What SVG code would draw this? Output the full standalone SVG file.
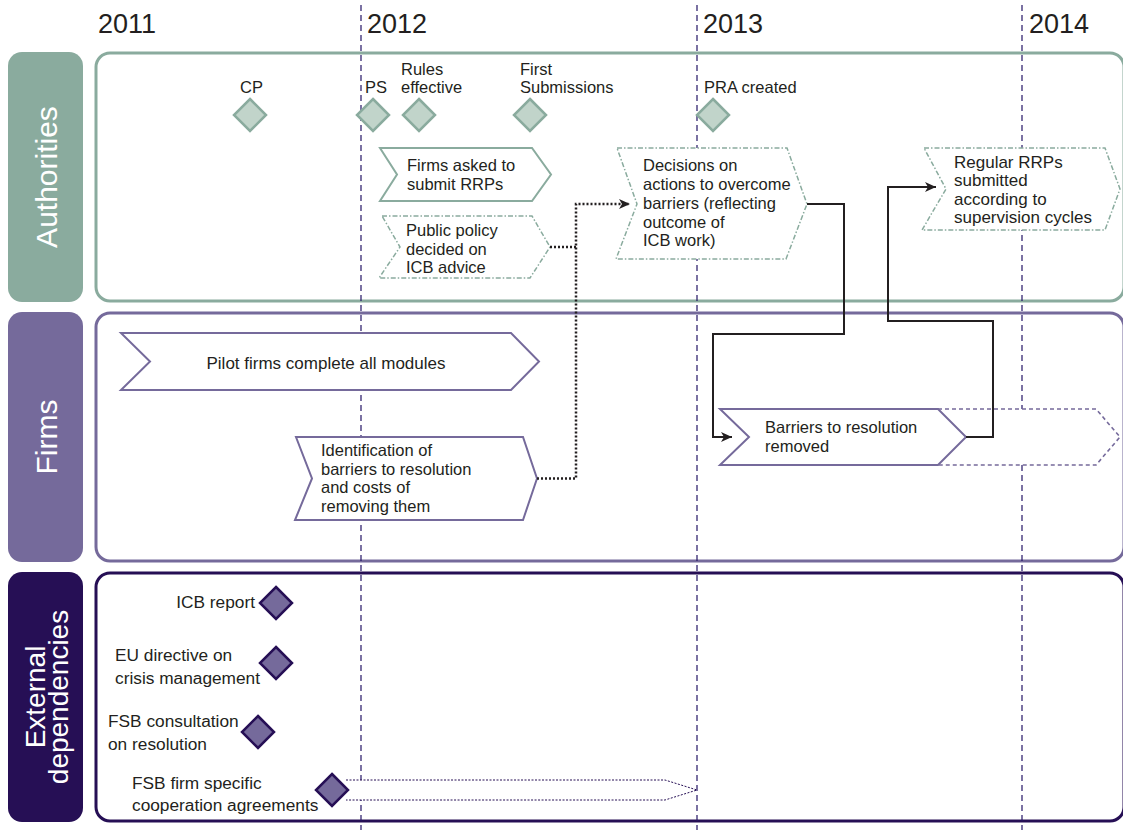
<svg xmlns="http://www.w3.org/2000/svg" width="1123" height="830" viewBox="0 0 1123 830">
<defs>
<style>
text{font-family:"Liberation Sans",Arial,sans-serif;fill:#231f20;font-size:16.5px}
.yr{font-size:27px}
.lane{fill:#fff;font-size:30px}
.ext{font-size:17.3px}
.gbox{fill:#fff;stroke:#8aab9e;stroke-width:3}
.pbox{fill:#fff;stroke:#756a9b;stroke-width:3}
.dbox{fill:#fff;stroke:#260f55;stroke-width:3}
.ylin{stroke:#231466;stroke-width:1.2;stroke-dasharray:6 4;fill:none}
.gdia{fill:#c1d4ca;stroke:#8aab9e;stroke-width:2.5}
.pdia{fill:#756a9b;stroke:#260f55;stroke-width:2.5}
.gchev{fill:#fff;stroke:#8aab9e;stroke-width:2}
.gchevd{fill:#fff;stroke:#8aab9e;stroke-width:1.5;stroke-dasharray:5 2 1.5 2}
.pchev{fill:#fff;stroke:#756a9b;stroke-width:2}
.pchevd{fill:#fff;stroke:#756a9b;stroke-width:1.6;stroke-dasharray:4 3}
.solid{fill:none;stroke:#231f20;stroke-width:2}
.dot{fill:none;stroke:#231f20;stroke-width:2.5;stroke-dasharray:2 2}
</style>
<marker id="ah" markerUnits="userSpaceOnUse" markerWidth="12" markerHeight="10" refX="11" refY="5" orient="auto">
<path d="M0,0 L11,5 L0,10 L3,5 z" fill="#231f20"/>
</marker>
</defs>
<rect width="1123" height="830" fill="#fff"/>

<g id="years">
<text class="yr" x="98" y="33">2011</text>
<text class="yr" x="367" y="33">2012</text>
<text class="yr" x="703" y="33">2013</text>
<text class="yr" x="1029" y="33">2014</text>
</g>

<g id="lane-authorities">
<rect x="8" y="52" width="75" height="250" rx="14" fill="#8aab9e"/>
<text class="lane" transform="translate(57,177) rotate(-90)" text-anchor="middle">Authorities</text>
<rect class="gbox" x="96" y="53" width="1028" height="248" rx="14"/>
</g>
<g id="lane-firms">
<rect x="8" y="312" width="75" height="250" rx="14" fill="#756a9b"/>
<text class="lane" transform="translate(57,437) rotate(-90)" text-anchor="middle">Firms</text>
<rect class="pbox" x="96" y="313" width="1028" height="248" rx="14"/>
</g>
<g id="lane-external">
<rect x="8" y="572" width="75" height="250" rx="14" fill="#260f55"/>
<text class="lane" style="font-size:28px" transform="translate(45,697) rotate(-90)" text-anchor="middle">External</text>
<text class="lane" style="font-size:28px" transform="translate(68,697) rotate(-90)" text-anchor="middle">dependencies</text>
<rect class="dbox" x="96" y="573" width="1028" height="248" rx="14"/>
</g>

<g id="year-lines">
<line class="ylin" x1="361" y1="5" x2="361" y2="830"/>
<line class="ylin" x1="697" y1="5" x2="697" y2="830"/>
<line class="ylin" x1="1022" y1="5" x2="1022" y2="830"/>
</g>

<g id="m-cp"><polygon class="gdia" points="250,99 266,115 250,131 234,115"/><text x="240" y="93">CP</text></g>
<g id="m-ps"><polygon class="gdia" points="373,99 389,115 373,131 357,115"/><text x="365" y="93">PS</text></g>
<g id="m-rules"><polygon class="gdia" points="419,99 435,115 419,131 403,115"/><text x="401" y="75">Rules</text><text x="401" y="93">effective</text></g>
<g id="m-first"><polygon class="gdia" points="530,99 546,115 530,131 514,115"/><text x="520" y="75">First</text><text x="520" y="93">Submissions</text></g>
<g id="m-pra"><polygon class="gdia" points="713,99 729,115 713,131 697,115"/><text x="704" y="93">PRA created</text></g>

<g id="n-firms-asked"><polygon class="gchev" points="380,148 532,148 551,174.5 532,201 380,201 397,174.5"/><text x="407" y="171">Firms asked to</text><text x="407" y="190">submit RRPs</text></g>
<g id="n-public-policy"><polygon class="gchevd" points="382,216 532,216 550,247 530,278 379,278 400,247"/><text x="406" y="236">Public policy</text><text x="406" y="255">decided on</text><text x="406" y="273">ICB advice</text></g>
<g id="n-decisions"><polygon class="gchevd" points="617,148 787,148 807,204 786,259 616,259 637,204"/><text x="643" y="171">Decisions on</text><text x="643" y="190">actions to overcome</text><text x="643" y="209">barriers (reflecting</text><text x="643" y="228">outcome of</text><text x="643" y="246">ICB work)</text></g>
<g id="n-regular"><polygon class="gchevd" points="924,148 1105,148 1120,189 1105,230 922,230 946,189"/><text x="954" y="168" style="font-size:17px">Regular RRPs</text><text x="954" y="186" style="font-size:17px">submitted</text><text x="954" y="205" style="font-size:17px">according to</text><text x="954" y="223" style="font-size:17px">supervision cycles</text></g>

<g id="n-pilot"><polygon class="pchev" points="121,333 511,333 539,361.5 511,390 121,390 150,361.5"/><text x="326" y="369" text-anchor="middle" style="font-size:17px">Pilot firms complete all modules</text></g>
<g id="n-identification"><polygon class="pchev" points="296,437 523,437 537,478.5 523,520 295,520 312,478.5"/><text x="321" y="456">Identification of</text><text x="321" y="475">barriers to resolution</text><text x="321" y="493">and costs of</text><text x="321" y="512">removing them</text></g>
<g id="n-barriers"><polyline class="pchevd" points="938,409 1096,409 1120,437 1096,465 938,465"/><polygon class="pchev" points="720,409 938,409 966,437 938,465 720,465 749,437"/><text x="765" y="433">Barriers to resolution</text><text x="765" y="452">removed</text></g>

<g id="n-icb"><polygon class="pdia" points="276,587 292,603 276,619 260,603"/><text class="ext" x="255" y="608" text-anchor="end">ICB report</text></g>
<g id="n-eu"><polygon class="pdia" points="276,647 292,663 276,679 260,663"/><text class="ext" x="115" y="661">EU directive on</text><text class="ext" x="115" y="684">crisis management</text></g>
<g id="n-fsbc"><polygon class="pdia" points="258,716 274,732 258,748 242,732"/><text class="ext" x="108" y="727">FSB consultation</text><text class="ext" x="108" y="750">on resolution</text></g>
<g id="n-fsbf"><polyline points="346,780 665,780 697,790 665,800 346,800" fill="#fff" stroke="#260f55" stroke-width="1" stroke-dasharray="2 1.5"/><polygon class="pdia" points="332,774 348,790 332,806 316,790"/><text class="ext" x="132" y="789">FSB firm specific</text><text class="ext" x="132" y="811">cooperation agreements</text></g>

<g id="connectors">
<path class="dot" d="M550,247 H576"/>
<path class="dot" d="M537,478.5 H576 V204 H630" marker-end="url(#ah)"/>
<path class="solid" d="M807,204 H844 V334 H713 V437 H732" marker-end="url(#ah)"/>
<path class="solid" d="M966,437 H993 V321 H888 V187 H936" marker-end="url(#ah)"/>
</g>
</svg>
